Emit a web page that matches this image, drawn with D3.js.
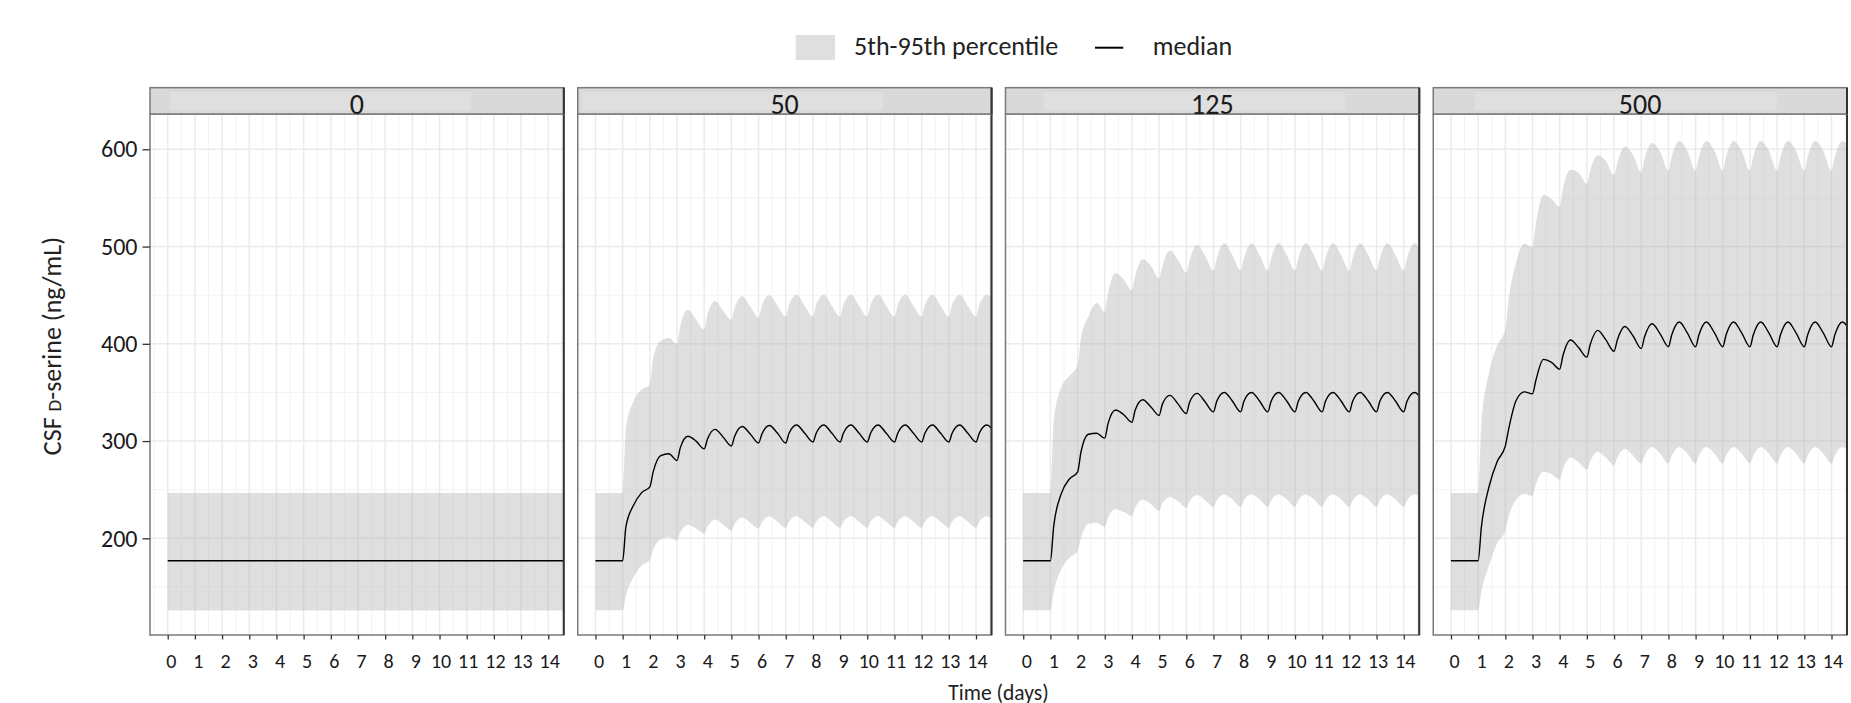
<!DOCTYPE html>
<html>
<head>
<meta charset="utf-8">
<script src="https://cdn.jsdelivr.net/npm/d3@7"></script>
<style>
  body { margin: 0; background: #fff; }
  text { font-family: Carlito, Calibri, Lato, sans-serif; }
</style>
</head>
<body>
<div id="chart"></div>
<script>

//----------------------------
// Data
//----------------------------

var doseLabels = ["0", "50", "125", "500"];
var xTicks = [0, 1, 2, 3, 4, 5, 6, 7, 8, 9, 10, 11, 12, 13, 14];
var yTicks = [200, 300, 400, 500, 600];

// placebo panel is flat
var timeFlat = [0, 14.7];
var lower0 = [125.9, 125.9];
var median0 = [177, 177];
var upper0 = [246.5, 246.5];

// sampling times for the dosed panels (days)
var times = [0,
  1, 1.12, 1.4, 1.7,   2, 2.12, 2.4, 2.7,   3, 3.12, 3.4, 3.7,   4, 4.12, 4.4, 4.7,
  5, 5.12, 5.4, 5.7,   6, 6.12, 6.4, 6.7,   7, 7.12, 7.4, 7.7,   8, 8.12, 8.4, 8.7,
  9, 9.12, 9.4, 9.7,   10, 10.12, 10.4, 10.7,   11, 11.12, 11.4, 11.7,
  12, 12.12, 12.4, 12.7,   13, 13.12, 13.4, 13.7,   14, 14.12, 14.4, 14.7];

var lower50 = [126,
  126, 141, 160, 172,   178, 188, 199, 201,   198, 206, 214, 210,   205, 212, 219.4, 214,
  208, 215, 221.5, 216,   210, 216.5, 222.5, 217,   211, 217, 222.7, 217,   211, 217, 222.7, 217,
  211, 217, 222.7, 217,   211, 217, 222.7, 217,   211, 217, 222.7, 217,
  211, 217, 222.7, 217,   211, 217, 222.7, 217,   211, 217, 222.7, 217];
var median50 = [177,
  177, 212, 234, 247,   253, 268, 285, 287,   280, 293, 305, 300,   292, 302, 312, 304,
  295, 305, 315, 307,   298, 307, 316, 308,   298, 308, 316.5, 308,   299, 308, 316.5, 308,
  299, 308, 316.5, 308,   299, 308, 316.5, 308,   299, 308, 316.5, 308,
  299, 308, 316.5, 308,   299, 308, 316.5, 308,   299, 308, 316.5, 308];
var upper50 = [246.6,
  246.6, 313, 341, 353,   358, 385, 403, 406,   400, 418, 435, 425,   414.6, 430, 444, 434,
  424.7, 437, 449, 438,   426.7, 439, 450, 439,   428, 440, 450.5, 439,   428, 440, 450.5, 439,
  428, 440, 450.5, 439,   428, 440, 450.5, 439,   428, 440, 450.5, 439,
  428, 440, 450.5, 439,   428, 440, 450.5, 439,   428, 440, 450.5, 440];

var lower125 = [126,
  126, 145, 168, 180,   187, 200, 215, 216,   212, 221, 230, 227,   223, 232, 239.7, 235,
  228.3, 236, 242.5, 238,   231.2, 238, 244.5, 239,   232.4, 239, 245, 240,   232.4, 239, 245, 240,
  232.4, 239, 245, 240,   232.4, 239, 245, 240,   232.4, 239, 245, 240,
  232.4, 239, 245, 240,   232.4, 239, 245, 240,   232.4, 239, 245, 240];
var median125 = [177,
  177, 212, 246, 261,   268, 288, 307, 308,   303, 318, 332, 327,   319.4, 332, 342.5, 335,
  326.3, 338, 347, 338,   328.3, 340, 349, 340,   330, 341, 350, 341,   330, 341, 350, 341,
  330, 341, 350, 341,   330, 341, 350, 341,   330, 341, 350, 341,
  330, 341, 350, 341,   330, 341, 350, 341,   330, 341, 350, 341];
var upper125 = [246.6,
  246.6, 320, 355, 367,   378, 405, 428, 442,   433, 452, 473, 466,   455, 470, 487, 480,
  467, 480, 496, 486,   473, 486, 501.6, 490,   475, 488, 503.5, 491,   475, 488, 503.5, 491,
  475, 488, 503.5, 491,   475, 488, 503.5, 491,   475, 488, 503.5, 491,
  475, 488, 503.5, 491,   475, 488, 503.5, 491,   475, 488, 503.5, 492];

var lower500 = [126,
  126, 145, 172, 195,   208, 222, 240, 245.7,   243.7, 255, 268.5, 266,   260.7, 271, 283, 278,
  270.9, 279, 289, 283,   274.9, 283, 292, 285,   277, 285, 294, 287,   277, 285, 294, 287,
  277, 285, 294, 287,   277, 285, 294, 287,   277, 285, 294, 287,
  277, 285, 294, 287,   277, 285, 294, 287,   277, 285, 294, 287];
var median500 = [177,
  177, 212, 253, 279,   295, 312, 342, 350.6,   348.6, 362, 384, 381,   374, 388, 404, 396,
  386.3, 399, 413.8, 404,   392.3, 404, 417.8, 408,   395.1, 407, 420.7, 410,   397, 409, 422.5, 411,
  397, 409, 422.5, 411,   397, 409, 422.5, 411,   397, 409, 422.5, 411,
  397, 409, 422.5, 411,   397, 409, 422.5, 411,   397, 409, 422.5, 412];
var upper500 = [246.6,
  246.6, 318, 370, 398,   414.6, 445, 484, 503,   499.6, 522, 553, 549,   540.9, 560, 579, 576,
  564.4, 578, 594, 588,   573.3, 586, 602.8, 594,   576.5, 590, 606.5, 597,   578, 592, 608.5, 598,
  578, 592, 608.5, 598,   578, 592, 608.5, 598,   578, 592, 608.5, 598,
  578, 592, 608.5, 598,   578, 592, 608.5, 598,   578, 592, 608.5, 598];

var panels = [
  { label: doseLabels[0], t: timeFlat, lo: lower0, med: median0, hi: upper0 },
  { label: doseLabels[1], t: times, lo: lower50, med: median50, hi: upper50 },
  { label: doseLabels[2], t: times, lo: lower125, med: median125, hi: upper125 },
  { label: doseLabels[3], t: times, lo: lower500, med: median500, hi: upper500 }
];

//----------------------------
// Layout
//----------------------------

var W = 1851, H = 703;
var left = 150, right = 1847, gap = 14;
var panelW = (right - left - 3 * gap) / 4;
var stripTop = 87.7, stripBottom = 114, plotBottom = 635;
// lighter patch seen inside each strip (offsets from panel left)
var stripShade = [[20, 321], [4.4, 305.4], [38, 339.6], [41.7, 343.4]];

var bandFill = "#b3b3b3", bandOpacity = 0.42;
var font = "Carlito, Calibri, Lato, sans-serif";

var svg = d3.select("#chart")
  .append("svg")
  .attr("width", W)
  .attr("height", H);

var x = d3.scaleLinear().domain([-0.652, 14.57]).range([0, panelW]);
var y = d3.scaleLinear().domain([100.6, 636.3]).range([plotBottom, stripBottom]);

var area = d3.area()
  .x(d => x(d.t))
  .y0(d => y(d.lo))
  .y1(d => y(d.hi))
  .curve(d3.curveMonotoneX);

var line = d3.line()
  .x(d => x(d.t))
  .y(d => y(d.med))
  .curve(d3.curveMonotoneX);

//----------------------------
// Panels
//----------------------------

panels.forEach(function (p, i) {
  var px = left + i * (panelW + gap);
  var g = svg.append("g").attr("transform", "translate(" + px + ",0)");

  var rows = p.t.map((t, k) => ({ t: t, lo: p.lo[k], med: p.med[k], hi: p.hi[k] }));

  g.append("clipPath").attr("id", "clip" + i)
    .append("rect")
    .attr("x", 0).attr("y", stripBottom)
    .attr("width", panelW).attr("height", plotBottom - stripBottom);

  g.append("rect")
    .attr("x", 0).attr("y", stripBottom)
    .attr("width", panelW).attr("height", plotBottom - stripBottom)
    .attr("fill", "#fff");

  // minor grid
  var xMinor = d3.range(-0.5, 14.6, 1);
  var yMinor = [150, 250, 350, 450, 550];
  g.selectAll(".xminor").data(xMinor).enter().append("line")
    .attr("x1", d => x(d)).attr("x2", d => x(d))
    .attr("y1", stripBottom).attr("y2", plotBottom)
    .attr("stroke", "#f3f3f3").attr("stroke-width", 1);
  g.selectAll(".yminor").data(yMinor).enter().append("line")
    .attr("x1", 0).attr("x2", panelW)
    .attr("y1", d => y(d)).attr("y2", d => y(d))
    .attr("stroke", "#f3f3f3").attr("stroke-width", 1);

  // major grid
  g.selectAll(".xmajor").data(xTicks).enter().append("line")
    .attr("x1", d => x(d)).attr("x2", d => x(d))
    .attr("y1", stripBottom).attr("y2", plotBottom)
    .attr("stroke", "#ebebeb").attr("stroke-width", 1.5);
  g.selectAll(".ymajor").data(yTicks).enter().append("line")
    .attr("x1", 0).attr("x2", panelW)
    .attr("y1", d => y(d)).attr("y2", d => y(d))
    .attr("stroke", "#ebebeb").attr("stroke-width", 1.5);

  var plot = g.append("g").attr("clip-path", "url(#clip" + i + ")");

  plot.append("path")
    .datum(rows)
    .attr("d", area)
    .attr("fill", bandFill)
    .attr("fill-opacity", bandOpacity);

  plot.append("path")
    .datum(rows)
    .attr("d", line)
    .attr("fill", "none")
    .attr("stroke", "#000")
    .attr("stroke-width", 1.4);

  // panel border
  g.append("rect")
    .attr("x", 0).attr("y", stripBottom)
    .attr("width", panelW).attr("height", plotBottom - stripBottom)
    .attr("fill", "none")
    .attr("stroke", "#7a7a7a").attr("stroke-width", 1.5);
  g.append("line")
    .attr("x1", panelW).attr("x2", panelW)
    .attr("y1", stripTop).attr("y2", plotBottom)
    .attr("stroke", "#333").attr("stroke-width", 2);

  // strip
  g.append("rect")
    .attr("x", 0).attr("y", stripTop)
    .attr("width", panelW).attr("height", stripBottom - stripTop)
    .attr("fill", "#d9d9d9")
    .attr("stroke", "#7a7a7a").attr("stroke-width", 1.5);
  g.append("rect")
    .attr("x", stripShade[i][0]).attr("y", 91.7)
    .attr("width", stripShade[i][1] - stripShade[i][0]).attr("height", 18.3)
    .attr("fill", "#dfdfdf");
  g.append("line")
    .attr("x1", panelW).attr("x2", panelW)
    .attr("y1", stripTop).attr("y2", stripBottom)
    .attr("stroke", "#333").attr("stroke-width", 2);
  g.append("text")
    .attr("x", panelW / 2)
    .attr("y", 113.5)
    .attr("text-anchor", "middle")
    .attr("font-size", 28)
    .attr("fill", "#1a1a1a")
    .text(p.label);

  // x axis
  var xa = g.append("g")
    .attr("transform", "translate(0," + plotBottom + ")")
    .call(d3.axisBottom(x).tickValues(xTicks).tickSize(4.5).tickPadding(14.3).tickFormat(d3.format("d")));
  xa.select(".domain").remove();
  xa.selectAll(".tick line").attr("stroke", "#333").attr("stroke-width", 1.3);
  xa.selectAll(".tick text")
    .attr("font-size", 20)
    .attr("font-family", font)
    .attr("fill", "#1a1a1a")
    .attr("dx", d => d < 10 ? 3 : 1);

  // y axis on the first panel only
  if (i === 0) {
    var ya = g.append("g")
      .call(d3.axisLeft(y).tickValues(yTicks).tickSize(7.5).tickPadding(5));
    ya.select(".domain").remove();
    ya.selectAll(".tick line").attr("stroke", "#333").attr("stroke-width", 1.3);
    ya.selectAll(".tick text")
      .attr("font-size", 24)
      .attr("font-family", font)
      .attr("fill", "#1a1a1a");
  }
});

//----------------------------
// Axis titles
//----------------------------

var yTitle = svg.append("text")
  .attr("transform", "translate(61,346) rotate(-90)")
  .attr("text-anchor", "middle")
  .attr("font-size", 26)
  .attr("fill", "#222");
yTitle.append("tspan").text("CSF ");
yTitle.append("tspan").attr("font-size", 19).text("D");
yTitle.append("tspan").text("-serine (ng/mL)");

svg.append("text")
  .attr("x", (left + right) / 2)
  .attr("y", 700)
  .attr("text-anchor", "middle")
  .attr("font-size", 21.5)
  .attr("fill", "#222")
  .text("Time (days)");

//----------------------------
// Legend
//----------------------------

var legend = svg.append("g");
legend.append("rect")
  .attr("x", 795.7).attr("y", 35)
  .attr("width", 39.3).attr("height", 25)
  .attr("fill", bandFill).attr("fill-opacity", bandOpacity);
legend.append("text")
  .attr("x", 854).attr("y", 54.5)
  .attr("font-size", 26)
  .attr("fill", "#222")
  .text("5th-95th percentile");
legend.append("line")
  .attr("x1", 1095).attr("x2", 1123.3)
  .attr("y1", 47.7).attr("y2", 47.7)
  .attr("stroke", "#000").attr("stroke-width", 2);
legend.append("text")
  .attr("x", 1152.7).attr("y", 54.5)
  .attr("font-size", 26)
  .attr("fill", "#222")
  .text("median");

</script>
</body>
</html>
